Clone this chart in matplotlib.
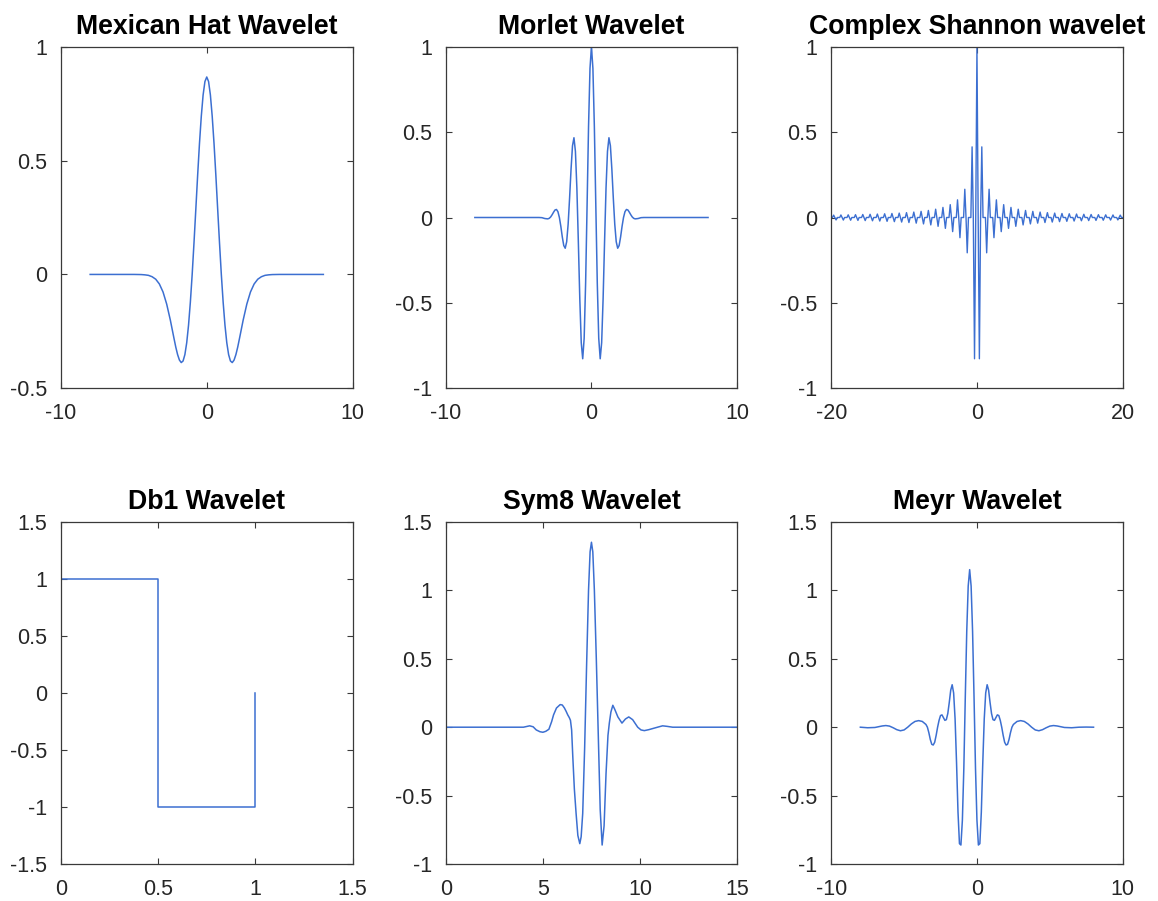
import numpy as np
import matplotlib.pyplot as plt

plt.rcParams['font.family'] = ['Liberation Sans', 'DejaVu Sans']

LINE = '#3C6FD1'
AXC = '#3a3a3a'

# --- Mexican hat (symmetric, x >= 0 half) ---
mexh_x = [0, 0.125, 0.25, 0.375, 0.5, 0.625, 0.75, 0.875, 1.0, 1.125, 1.25, 1.375,
          1.5, 1.625, 1.75, 1.875, 2.0, 2.125, 2.25, 2.5, 2.75, 3.0, 3.25, 3.5, 3.75,
          4.0, 4.25, 4.5, 5.0, 8.0]
mexh_y = [0.867, 0.847, 0.788, 0.694, 0.574, 0.435, 0.286, 0.139, 0.0, -0.122, -0.223, -0.300,
          -0.352, -0.380, -0.387, -0.376, -0.352, -0.319, -0.280, -0.200, -0.130, -0.077,
          -0.042, -0.021, -0.010, -0.004, -0.0018, -0.0006, 0.0, 0.0]

# --- Morlet (symmetric, x >= 0 half) ---
morl_x = [0.0, 0.1, 0.2, 0.3, 0.4, 0.5, 0.6, 0.7, 0.8, 0.9, 1.0, 1.1, 1.2, 1.3, 1.4, 1.5,
          1.6, 1.7, 1.8, 1.9, 2.0, 2.1, 2.2, 2.3, 2.4, 2.5, 2.6, 2.7, 2.8, 2.9, 3.0,
          3.2, 3.4, 3.6, 8.0]
morl_y = [1.000, 0.873, 0.530, 0.068, -0.384, -0.707, -0.827, -0.733, -0.475, -0.141,
          0.172, 0.387, 0.467, 0.420, 0.283, 0.113, -0.040, -0.142, -0.180, -0.164,
          -0.114, -0.052, 0.000, 0.034, 0.047, 0.044, 0.031, 0.016, 0.003, -0.005,
          -0.008, -0.006, -0.001, 0.0, 0.0]

# --- Complex Shannon (real part), peaks every 1/3, zero halfway between ---
shan_peaks = [1.0,
              -0.827, 0.4135, 0, -0.2067, 0.1654, 0, -0.1181, 0.1034, 0,
              -0.0827, 0.0752, 0, -0.0636, 0.0591, 0, -0.0517, 0.0486, 0,
              -0.0435, 0.0414, 0, -0.0376, 0.0360, 0, -0.0331, 0.0318, 0,
              -0.0295, 0.0285, 0, -0.0267, 0.0258, 0, -0.0243, 0.0236, 0,
              -0.0224, 0.0218, 0, -0.0207, 0.0202, 0, -0.0192, 0.0188, 0,
              -0.0180, 0.0176, 0, -0.0169, 0.0165, 0, -0.0159, 0.0156, 0,
              -0.0150, 0.0148, 0, -0.0143, 0.0140, 0]
shan_step = 1 / 3

# --- Db1 (Haar) ---
db1_x = [0, 0, 0.5, 0.5, 1, 1]
db1_y = [0, 1, 1, -1, -1, 0]

# --- Sym8 ---
sym8_x = [0, 4.0, 4.32, 4.5, 4.66, 4.85, 5.0, 5.15, 5.31, 5.45, 5.55, 5.7, 5.89, 6.0, 6.11,
          6.2, 6.28, 6.36, 6.42, 6.48, 6.54, 6.62, 6.71, 6.8, 6.9, 6.97, 7.05, 7.15, 7.25,
          7.35, 7.43, 7.5, 7.57, 7.65, 7.75, 7.85, 7.95, 8.05, 8.15, 8.25, 8.35, 8.42, 8.5,
          8.6, 8.7, 8.86, 9.07, 9.25, 9.42, 9.62, 9.88, 10.05, 10.22, 10.45, 10.65, 10.9,
          11.16, 11.4, 11.68, 15]
sym8_y = [0, 0.0, 0.01, 0.003, -0.02, -0.033, -0.037, -0.03, -0.015, 0.04, 0.09, 0.14,
          0.165, 0.162, 0.14, 0.115, 0.09, 0.07, 0.05, -0.02, -0.215, -0.45, -0.63, -0.79,
          -0.85, -0.80, -0.63, -0.15, 0.45, 1.0, 1.28, 1.35, 1.28, 1.0, 0.5, -0.05, -0.6,
          -0.86, -0.72, -0.34, -0.06, 0.03, 0.11, 0.16, 0.13, 0.075, 0.03, 0.06, 0.075,
          0.055, 0.0, -0.02, -0.025, -0.018, -0.01, 0.0, 0.01, 0.006, 0.0, 0.0]

# --- Meyer (symmetric about x = -0.5, offsets >= 0) ---
meyr_center = -0.5
meyr_off = [0, 0.1, 0.2, 0.3, 0.4, 0.5, 0.6, 0.7, 0.8, 0.9, 1.0, 1.1, 1.2, 1.3, 1.4, 1.5,
            1.6, 1.7, 1.8, 1.9, 2.0, 2.1, 2.2, 2.3, 2.4, 2.5, 2.6, 2.7, 2.8, 2.9, 3.0,
            3.25, 3.5, 3.75, 4.0, 4.25, 4.5, 4.75, 5.0, 5.25, 5.5, 5.75, 6.0, 6.5, 7.0,
            7.5, 8.0, 8.5]
meyr_y = [1.15, 1.03, 0.70, 0.22, -0.30, -0.68, -0.86, -0.85, -0.62, -0.26, 0.06, 0.25,
          0.31, 0.27, 0.18, 0.10, 0.055, 0.05, 0.07, 0.09, 0.085, 0.05, 0.0, -0.06, -0.11,
          -0.13, -0.125, -0.09, -0.04, 0.0, 0.02, 0.042, 0.048, 0.042, 0.024, 0.0, -0.02,
          -0.026, -0.018, -0.004, 0.008, 0.012, 0.009, -0.002, -0.004, 0.0, 0.001, 0.0]


def mirror(xh, yh, center=0.0):
    # build a full even curve from its right half
    xh = np.asarray(xh, dtype=float)
    yh = np.asarray(yh, dtype=float)
    x = np.concatenate([center - xh[:0:-1], center + xh])
    y = np.concatenate([yh[:0:-1], yh])
    return x, y


def style(ax, title, xlim, ylim, xticks, yticks):
    ax.set_xlim(*xlim)
    ax.set_ylim(*ylim)
    ax.set_xticks(xticks)
    ax.set_yticks(yticks)
    ax.set_xticklabels([f'{v:g}' for v in xticks])
    ax.set_yticklabels([f'{v:g}' for v in yticks])
    ax.set_title(title, fontsize=19.2, fontweight='bold', pad=9.5)
    ax.tick_params(direction='in', top=True, right=True, length=4, width=0.8,
                   color=AXC, labelcolor='#262626', labelsize=15.5)
    ax.tick_params(axis='x', pad=10.5)
    ax.tick_params(axis='y', pad=10)
    for s in ax.spines.values():
        s.set_color(AXC)
        s.set_linewidth(0.9)


W, H = 1158, 901
fig = plt.figure(figsize=(W / 100, H / 100), dpi=100)
lefts = [61, 445.7, 831.2]
aw = 291.5


def rect(col, top, bottom):
    return [lefts[col] / W, 1 - bottom / H, aw / W, (bottom - top) / H]


# row 1
ax = fig.add_axes(rect(0, 46.7, 388.3))
x, y = mirror(mexh_x, mexh_y)
ax.plot(x, y, color=LINE, lw=1.1)
style(ax, 'Mexican Hat Wavelet', (-10, 10), (-0.5, 1), [-10, 0, 10], [-0.5, 0, 0.5, 1])

ax = fig.add_axes(rect(1, 46.7, 388.3))
x, y = mirror(morl_x, morl_y)
ax.plot(x, y, color=LINE, lw=1.1)
style(ax, 'Morlet Wavelet', (-10, 10), (-1, 1), [-10, 0, 10], [-1, -0.5, 0, 0.5, 1])

ax = fig.add_axes(rect(2, 46.7, 388.3))
n = len(shan_peaks)
sx = np.arange(2 * n - 1) * shan_step / 2
sy = np.zeros(2 * n - 1)
sy[::2] = shan_peaks
x, y = mirror(sx, sy)
ax.plot(x, y, color=LINE, lw=1.0)
style(ax, 'Complex Shannon wavelet', (-20, 20), (-1, 1), [-20, 0, 20], [-1, -0.5, 0, 0.5, 1])

# row 2
ax = fig.add_axes(rect(0, 521.7, 864.2))
ax.plot(db1_x, db1_y, color=LINE, lw=1.1)
style(ax, 'Db1 Wavelet', (0, 1.5), (-1.5, 1.5), [0, 0.5, 1, 1.5],
      [-1.5, -1, -0.5, 0, 0.5, 1, 1.5])

ax = fig.add_axes(rect(1, 521.7, 864.2))
ax.plot(sym8_x, sym8_y, color=LINE, lw=1.1)
style(ax, 'Sym8 Wavelet', (0, 15), (-1, 1.5), [0, 5, 10, 15], [-1, -0.5, 0, 0.5, 1, 1.5])

ax = fig.add_axes(rect(2, 521.7, 864.2))
x, y = mirror(meyr_off, meyr_y, meyr_center)
keep = x >= -8
ax.plot(x[keep], y[keep], color=LINE, lw=1.1)
style(ax, 'Meyr Wavelet', (-10, 10), (-1, 1.5), [-10, 0, 10], [-1, -0.5, 0, 0.5, 1, 1.5])

fig.savefig('out.png', dpi=100)
